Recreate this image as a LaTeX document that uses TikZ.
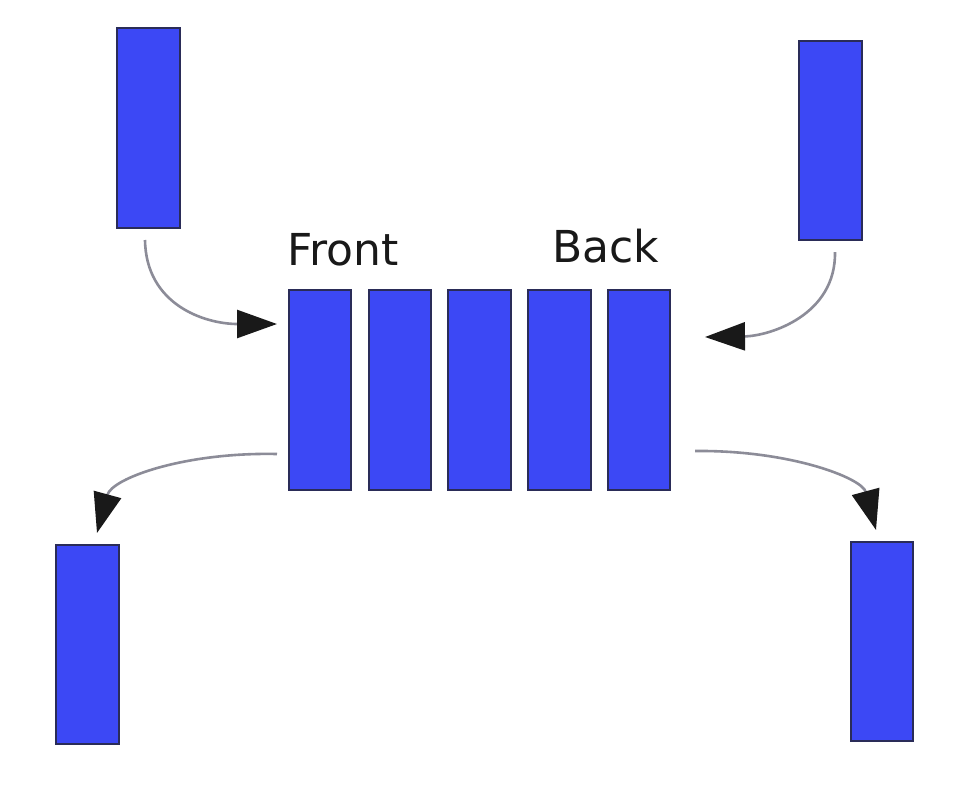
\documentclass[tikz,border=0pt]{standalone}
\usepackage{fontspec}
\setmainfont{DejaVu Sans}
\usetikzlibrary{arrows.meta}
\definecolor{boxblue}{HTML}{3C48F5}
\definecolor{boxedge}{HTML}{2A2C58}
\definecolor{linegray}{HTML}{8C8C98}
\begin{document}
\begin{tikzpicture}[x=1pt,y=-1pt,
  blk/.style={draw=boxedge,line width=1.8pt,fill=boxblue},
  conn/.style={draw=linegray,line width=2.6pt,-{Triangle[length=40pt,width=28pt,fill=black!90,color=black!90]}},
  lbl/.style={font=\fontsize{44}{52}\selectfont,text=black!90,inner sep=0pt,anchor=base west}]
\useasboundingbox[fill=white] (0,0) rectangle (953,788);
% top and bottom single blocks
\path[blk] (117,28) rectangle (180,228);
\node (tl) at (148.5,128) {};
\path[blk] (799,41) rectangle (862,240);
\node (tr) at (830.5,140) {};
\path[blk] (56,545) rectangle (119,744);
\node (bl) at (87.5,644) {};
\path[blk] (851,542) rectangle (913,741);
\node (br) at (882,641) {};
% queue
\path[blk] (289,290) rectangle (351,490);
\path[blk] (369,290) rectangle (431,490);
\path[blk] (448,290) rectangle (511,490);
\path[blk] (528,290) rectangle (591,490);
\path[blk] (608,290) rectangle (670,490);
% labels
\node[lbl] (front) at (287,265) {Front};
\node[lbl] (back) at (552,262) {Back};
% connectors
\coordinate (a1s) at (145,240); \coordinate (a1e) at (277,324);
\coordinate (a2s) at (835,252); \coordinate (a2e) at (705,337);
\coordinate (a3s) at (277,454); \coordinate (a3e) at (97,533);
\coordinate (a4s) at (695,451); \coordinate (a4e) at (876,530);
\draw[conn] (a1s) .. controls (146,305) and (205,324) .. (a1e);
\draw[conn] (a2s) .. controls (836,315) and (770,336) .. (a2e);
\draw[conn] (a3s) .. controls (185,452) and (112,478) .. (a3e);
\draw[conn] (a4s) .. controls (790,450) and (862,478) .. (a4e);
\end{tikzpicture}
\end{document}
